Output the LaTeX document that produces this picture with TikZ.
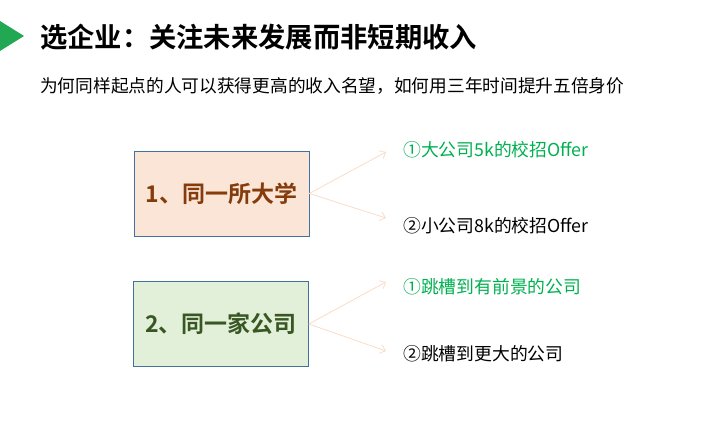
\documentclass[tikz,border=0pt]{standalone}
\usepackage{fontspec}
\setmainfont{Noto Sans CJK SC}[BoldFont={Noto Sans CJK SC Bold}]
\usetikzlibrary{arrows.meta}
\definecolor{tri}{HTML}{22A852}
\definecolor{peach}{HTML}{FBE5D6}
\definecolor{mint}{HTML}{E2F0D9}
\definecolor{edge}{HTML}{41719C}
\definecolor{brown}{HTML}{843C0C}
\definecolor{dgreen}{HTML}{385723}
\definecolor{ogreen}{HTML}{00B050}
\definecolor{arr}{HTML}{F9DCC8}
\tikzset{
  x=1pt,y=-1pt,
  box/.style={draw=edge,line width=0.6pt,minimum width=175pt,minimum height=85pt,inner sep=0pt,font=\fontsize{23}{26}\selectfont\bfseries},
  lab/.style={anchor=west,inner sep=0pt,font=\fontsize{17.8}{20}\selectfont},
  conn/.style={draw=arr,line width=0.8pt,-{Straight Barb[length=5pt,width=9pt]}}
}
\begin{document}
\begin{tikzpicture}
\useasboundingbox (0,0) rectangle (715,428);
\fill[tri] (0,21) -- (24,36) -- (0,51) -- cycle;
\node[anchor=west,inner sep=0pt,font=\fontsize{27.3}{30}\selectfont\bfseries] (title) at (40,37) {选企业：关注未来发展而非短期收入};
\node[anchor=west,inner sep=0pt,font=\fontsize{17.7}{21}\selectfont] (sub) at (40,86) {为何同样起点的人可以获得更高的收入名望，如何用三年时间提升五倍身价};
\node[box,fill=peach,text=brown] (b1) at (221.5,193.5) {1、同一所大学};
\node[box,fill=mint,text=dgreen] (b2) at (221,324) {2、同一家公司};
\coordinate (t1) at (386,152);
\coordinate (t2) at (386,218);
\coordinate (t3) at (386,282);
\coordinate (t4) at (386,351);
\draw[conn] (b1.east) -- (t1);
\draw[conn] (b1.east) -- (t2);
\draw[conn] (b2.east) -- (t3);
\draw[conn] (b2.east) -- (t4);
\node[lab,text=ogreen] (l1) at (403,150) {①大公司5k的校招Offer};
\node[lab] (l2) at (403,226) {②小公司8k的校招Offer};
\node[lab,text=ogreen] (l3) at (403,287) {①跳槽到有前景的公司};
\node[lab] (l4) at (403,354) {②跳槽到更大的公司};
\end{tikzpicture}
\end{document}
